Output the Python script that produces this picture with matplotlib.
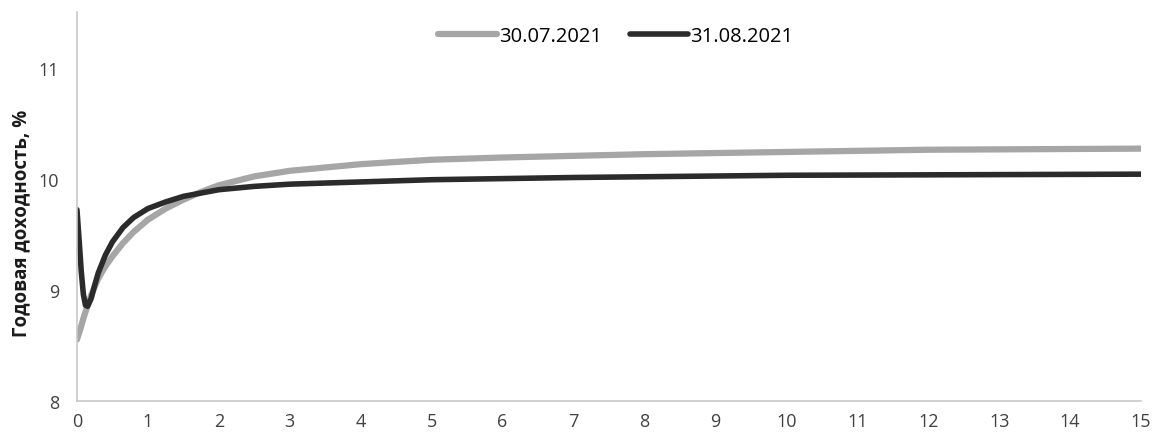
import matplotlib.pyplot as plt

plt.rcParams['font.family'] = ['Open Sans', 'DejaVu Sans']

# maturity, years
t_jul = [0, 0.05, 0.1, 0.2, 0.3, 0.4, 0.5, 0.65, 0.8, 1, 1.25, 1.5, 1.75, 2, 2.5,
         3, 4, 5, 6, 8, 10, 12, 15]
y_jul = [8.55, 8.65, 8.76, 8.95, 9.10, 9.21, 9.30, 9.42, 9.52, 9.63, 9.73, 9.81,
         9.88, 9.94, 10.02, 10.07, 10.13, 10.17, 10.19, 10.22, 10.24, 10.26, 10.27]

t_aug = [0, 0.03, 0.06, 0.09, 0.12, 0.15, 0.2, 0.25, 0.3, 0.4, 0.5, 0.65, 0.8, 1,
         1.25, 1.5, 2, 2.5, 3, 4, 5, 7, 10, 15]
y_aug = [9.72, 9.45, 9.17, 8.96, 8.86, 8.85, 8.92, 9.04, 9.15, 9.31, 9.43, 9.56,
         9.65, 9.73, 9.79, 9.84, 9.90, 9.93, 9.95, 9.97, 9.99, 10.01, 10.03, 10.04]

labels = ['30.07.2021', '31.08.2021']

fig = plt.figure(figsize=(11.52, 4.35), dpi=100)
ax = fig.add_axes([0.0668, 0.0766, 0.9237, 0.8934])

ax.plot(t_jul, y_jul, color='#a6a6a6', lw=4.5, solid_capstyle='round',
        solid_joinstyle='round', label=labels[0])
ax.plot(t_aug, y_aug, color='#2b2b2b', lw=4, solid_capstyle='round',
        solid_joinstyle='round', label=labels[1])

ax.set_xlim(0, 15)
ax.set_ylim(8, 11.5)
ax.set_xticks(range(0, 16))
ax.set_yticks([8, 9, 10, 11])
ax.tick_params(length=0, labelsize=13, colors='#404040')
ax.tick_params(axis='y', pad=13)
ax.tick_params(axis='x', pad=8)
for s in ['top', 'right']:
    ax.spines[s].set_visible(False)
for s in ['left', 'bottom']:
    ax.spines[s].set_color('#c8c8c8')
    ax.spines[s].set_linewidth(1.2)

fig.text(21 / 1152, 1 - 223 / 435, 'Годовая доходность, %', rotation=90,
         ha='center', va='center', fontsize=13.5, fontweight='bold', color='#1a1a1a')

ax.legend(loc='upper center', bbox_to_anchor=(0.5066, 1.01), ncol=2, frameon=False,
          fontsize=14.5, handlelength=2.9, handletextpad=0.1, columnspacing=1.4)

fig.savefig('out.png', dpi=100)
